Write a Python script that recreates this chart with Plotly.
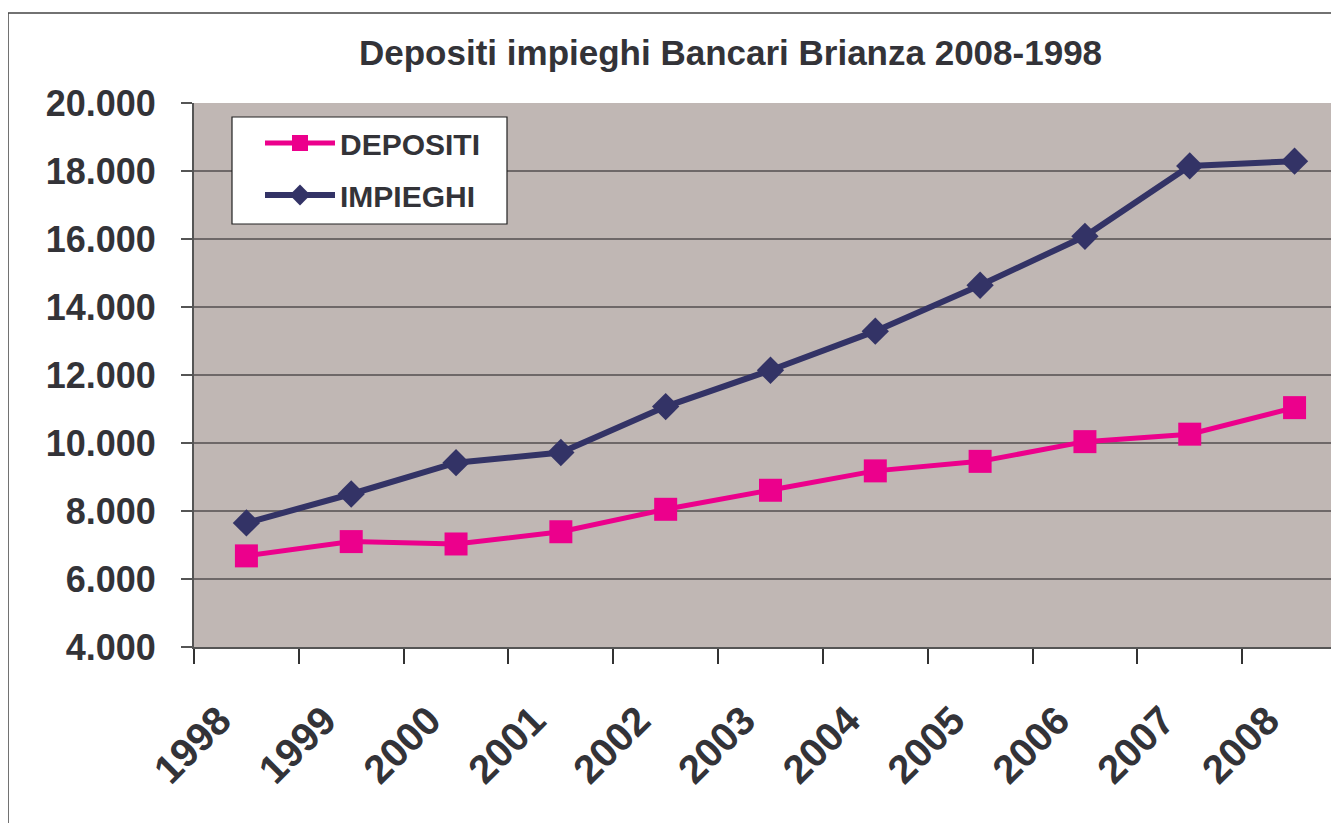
import plotly.graph_objects as go

years = ["1998", "1999", "2000", "2001", "2002", "2003", "2004", "2005", "2006", "2007", "2008"]
depositi = [6680, 7100, 7030, 7390, 8050, 8610, 9180, 9460, 10040, 10260, 11040]
impieghi = [7650, 8500, 9420, 9720, 11070, 12140, 13290, 14640, 16080, 18150, 18290]

TXT = "#333338"
FONT = "Liberation Sans, Arial, sans-serif"

fig = go.Figure()
fig.add_trace(go.Scatter(
    x=years, y=depositi, name="DEPOSITI", mode="lines+markers", legendgroup="d",
    line=dict(color="#EC008C", width=5),
    marker=dict(symbol="square", size=23, color="#EC008C"),
))
fig.add_trace(go.Scatter(
    x=years, y=impieghi, name="IMPIEGHI", mode="lines+markers", legendgroup="i",
    line=dict(color="#333366", width=6),
    marker=dict(symbol="diamond", size=21, color="#333366"),
))

# page is offset by 8px body margin
OFF = 8
W, H = 1331, 815
L, T = 194 - OFF, 103 - OFF
PB = 647 - OFF
R = 0
B = H - PB
pw = W - L - R
ph = PB - T

def px(xpage):
    return (xpage - OFF - L) / pw

def py(ypage):
    return (PB - (ypage - OFF)) / ph

fig.update_layout(
    width=W, height=H,
    margin=dict(l=L, r=R, t=T, b=B),
    paper_bgcolor="white",
    plot_bgcolor="#C0B7B4",
    separators=",.",
    font=dict(family=FONT, color=TXT),
    showlegend=True,
    legend=dict(
        x=px(260), y=py(117), xanchor="left", yanchor="top",
        bgcolor="rgba(0,0,0,0)", borderwidth=0,
        font=dict(family=FONT, size=30, color=TXT, weight="bold"),
        itemwidth=70, tracegroupgap=10,
    ),
    annotations=[dict(
        text="<b>Depositi impieghi Bancari Brianza 2008-1998</b>",
        x=px(730), y=py(52), xref="paper", yref="paper",
        xanchor="center", yanchor="middle", showarrow=False,
        font=dict(family=FONT, size=35, color=TXT),
    )],
    shapes=[
        dict(
            type="path", xref="paper", yref="paper",
            path=f"M {px(8)} {py(830)} L {px(8)} {py(13)} L {px(1345)} {py(13)}",
            line=dict(color="#444444", width=1.5),
        ),
        dict(
            type="rect", xref="paper", yref="paper", layer="above",
            x0=px(232), x1=px(507), y0=py(224), y1=py(117),
            fillcolor="white", line=dict(color="#222222", width=1.2),
        ),
    ],
)

fig.update_xaxes(
    type="category", range=[-0.5, 10.424],
    tickson="boundaries", ticks="outside", ticklen=15, tickcolor="#333333", tickwidth=1.5,
    showline=True, linecolor="#555555", linewidth=2,
    showgrid=False, tickangle=-45,
    ticklabelstandoff=32, ticklabelshift=-27,
    tickfont=dict(family=FONT, size=40, color=TXT, weight="bold"),
)
fig.update_yaxes(
    range=[4000, 20000], dtick=2000, tickformat=",d",
    ticks="outside", ticklen=11, tickcolor="#555555", tickwidth=1.5,
    showline=True, linecolor="#555555", linewidth=2,
    showgrid=True, gridcolor="#6E6868", gridwidth=2,
    zeroline=False, ticklabelstandoff=18,
    tickfont=dict(family=FONT, size=36, color=TXT, weight="bold"),
)

fig.write_html("out.html")
